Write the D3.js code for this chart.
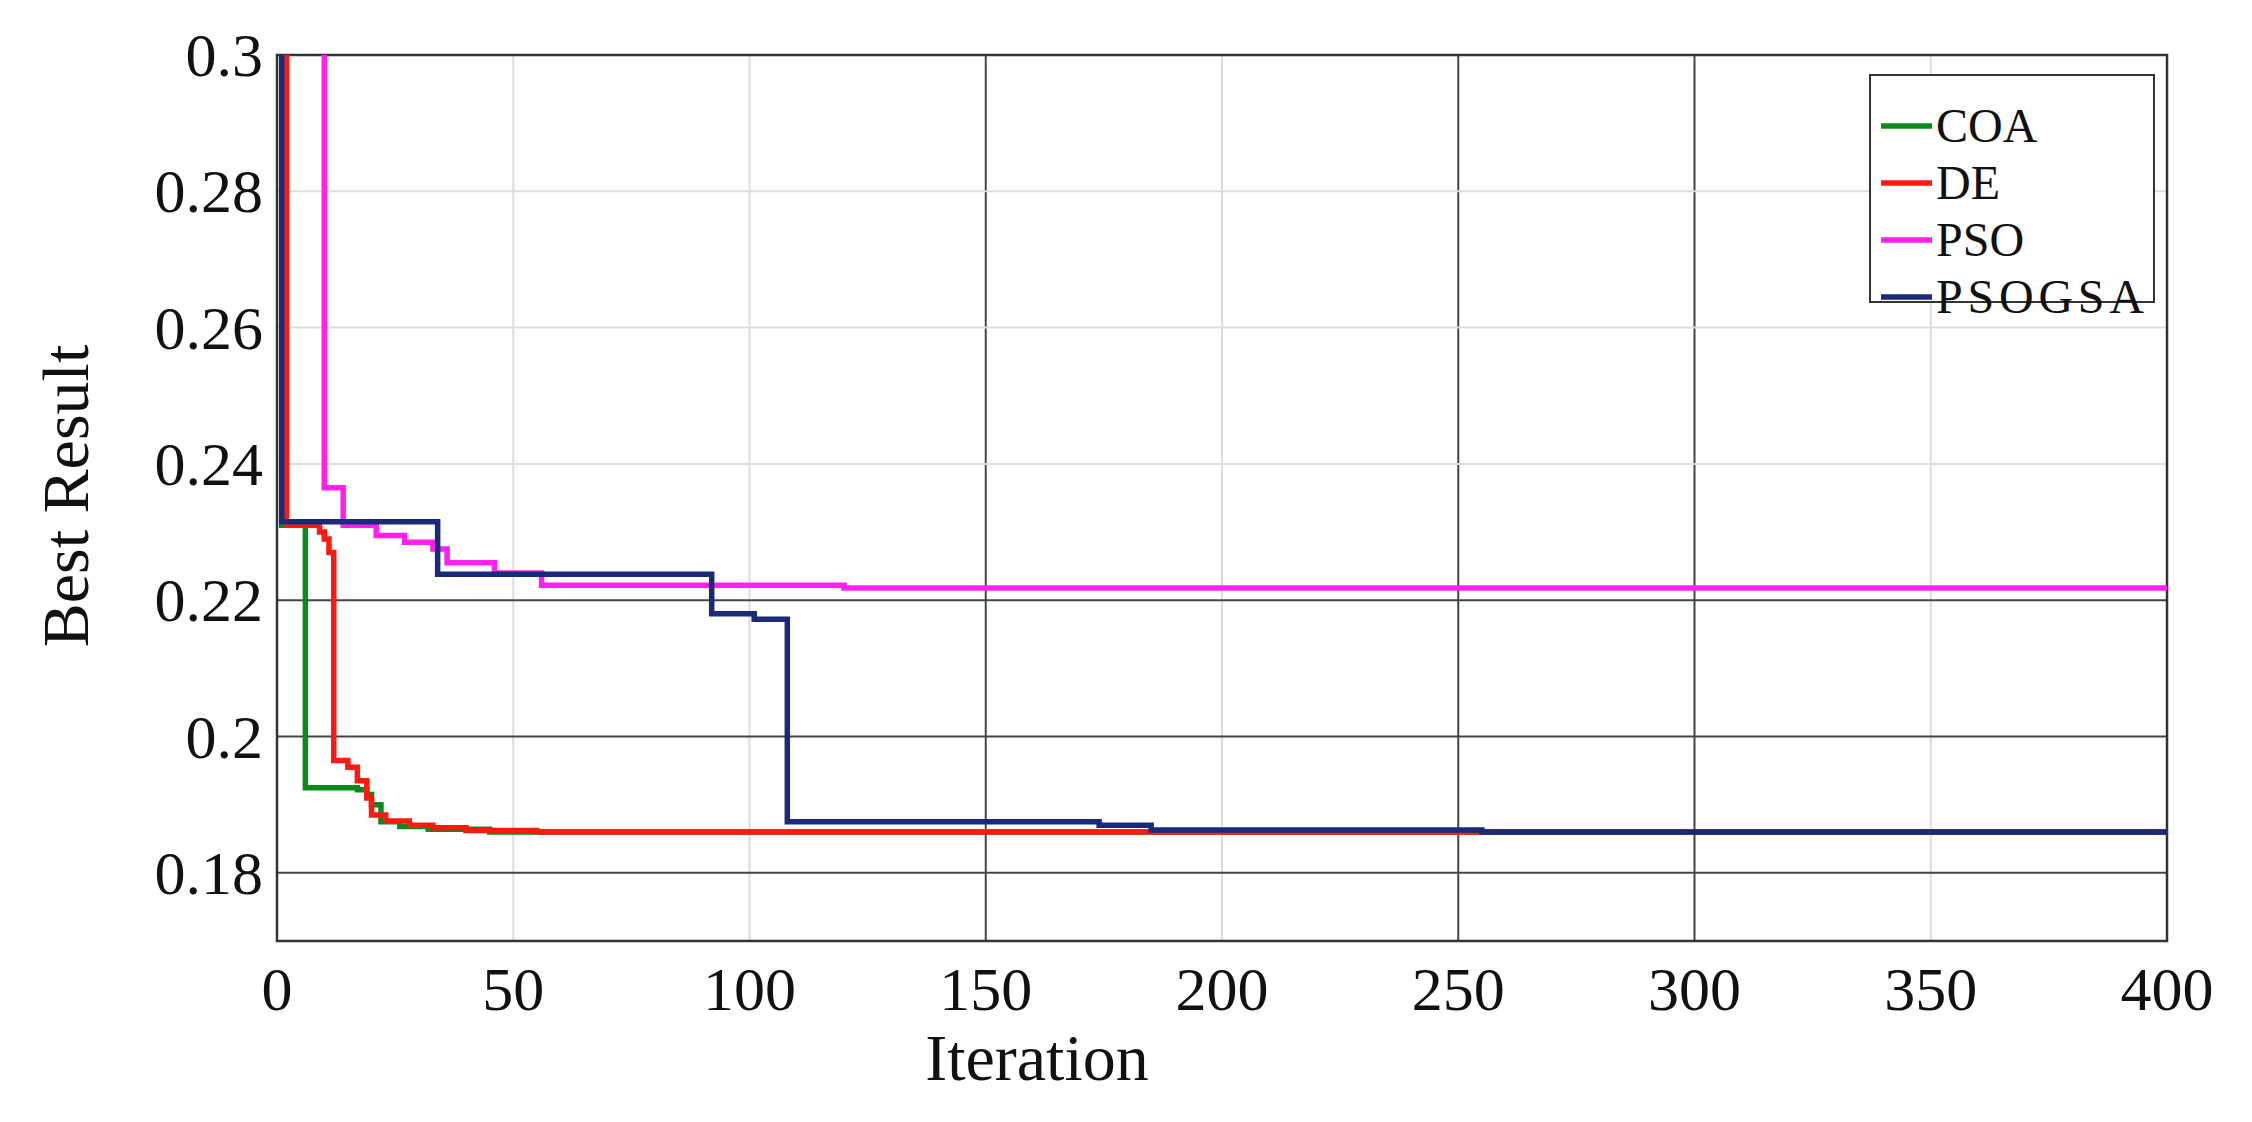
<!DOCTYPE html>
<html lang="en">
<head>
<meta charset="UTF-8">
<title>Best Result vs Iteration</title>
<script src="https://d3js.org/d3.v7.min.js"></script>
<style>
  body { margin: 0; background: #fff; }
  text { font-family: "Liberation Serif", "Times New Roman", serif; fill: #111; }
</style>
</head>
<body>
<svg id="chart"></svg>
<script>
const xTicks = [0, 50, 100, 150, 200, 250, 300, 350, 400];
const yTicks = [0.18, 0.2, 0.22, 0.24, 0.26, 0.28, 0.3];
const yTickLabels = ["0.18", "0.2", "0.22", "0.24", "0.26", "0.28", "0.3"];
const seriesNames = ["COA", "DE", "PSO", "PSOGSA"];

// [iteration, best value], drawn as steps
const coa = [[0, 0.34], [1, 0.2310], [6, 0.1925], [17, 0.1922], [19, 0.1915], [20, 0.190], [22, 0.1875], [26, 0.1868], [32, 0.1864], [45, 0.186], [400, 0.186]];
const de = [[0, 0.34], [2, 0.2310], [9, 0.2300], [10, 0.2290], [11, 0.2270], [12, 0.1965], [15, 0.1955], [17, 0.1935], [19, 0.1910], [20, 0.1885], [23, 0.1876], [28, 0.1870], [33, 0.1866], [40, 0.1862], [55, 0.186], [400, 0.186]];
const pso = [[0, 0.34], [10, 0.2365], [14, 0.2310], [21, 0.2295], [27, 0.2285], [33, 0.2275], [36, 0.2255], [46, 0.2240], [56, 0.2222], [120, 0.2218], [400, 0.2218]];
const psogsa = [[0, 0.34], [1, 0.2315], [34, 0.2238], [92, 0.2180], [101, 0.2172], [108, 0.1875], [174, 0.1870], [185, 0.1863], [255, 0.186], [400, 0.186]];
const seriesData = [coa, de, pso, psogsa];
const colors = ["#0a8a1a", "#ff1a10", "#ff22ee", "#1a2a7a"];

const W = 2252, H = 1122;
const m = { left: 277, right: 2167, top: 55, bottom: 941 };
const svg = d3.select("#chart").attr("width", W).attr("height", H);

const x = d3.scaleLinear().domain([0, 400]).range([m.left, m.right]);
const y = d3.scaleLinear().domain([0.17, 0.3]).range([m.bottom, m.top]);

// grid (some lines darker as in the original)
const darkX = [150, 250, 300], darkY = [0.18, 0.2, 0.22];
svg.append("g").selectAll("line").data(xTicks.slice(1, -1)).join("line")
  .attr("x1", d => x(d)).attr("x2", d => x(d)).attr("y1", m.top).attr("y2", m.bottom)
  .attr("stroke", d => darkX.includes(d) ? "#444" : "#ddd").attr("stroke-width", 2);
svg.append("g").selectAll("line").data(yTicks.slice(0, -1)).join("line")
  .attr("x1", m.left).attr("x2", m.right).attr("y1", d => y(d)).attr("y2", d => y(d))
  .attr("stroke", d => darkY.some(v => Math.abs(v - d) < 1e-9) ? "#444" : "#ddd").attr("stroke-width", 2);

// frame
svg.append("rect").attr("x", m.left).attr("y", m.top)
  .attr("width", m.right - m.left).attr("height", m.bottom - m.top)
  .attr("fill", "none").attr("stroke", "#333").attr("stroke-width", 2.5);

svg.append("clipPath").attr("id", "clip").append("rect")
  .attr("x", m.left).attr("y", m.top).attr("width", m.right - m.left).attr("height", m.bottom - m.top);

const line = d3.line().x(d => x(d[0])).y(d => y(d[1])).curve(d3.curveStepAfter);
svg.append("g").attr("clip-path", "url(#clip)").selectAll("path").data(seriesData).join("path")
  .attr("d", line).attr("fill", "none")
  .attr("stroke", (d, i) => colors[i]).attr("stroke-width", 5.5);

// tick labels
svg.append("g").selectAll("text").data(xTicks).join("text")
  .attr("x", d => x(d)).attr("y", 1010).attr("text-anchor", "middle")
  .attr("font-size", 62).text(d => d);
svg.append("g").selectAll("text").data(yTicks).join("text")
  .attr("x", m.left - 14).attr("y", d => y(d) + 21).attr("text-anchor", "end")
  .attr("font-size", 62).text((d, i) => yTickLabels[i]);

svg.append("text").attr("x", 1037).attr("y", 1080).attr("text-anchor", "middle")
  .attr("font-size", 66).text("Iteration");
svg.append("text").attr("transform", "translate(88,496) rotate(-90)")
  .attr("text-anchor", "middle").attr("font-size", 66).text("Best Result");

// legend
const lg = svg.append("g");
lg.append("rect").attr("x", 1870).attr("y", 75).attr("width", 284).attr("height", 227)
  .attr("fill", "#fff").attr("stroke", "#333").attr("stroke-width", 2);
const rows = lg.selectAll("g").data(seriesNames).join("g")
  .attr("transform", (d, i) => `translate(0,${126 + i * 57})`);
rows.append("line").attr("x1", 1881).attr("x2", 1932).attr("y1", 0).attr("y2", 0)
  .attr("stroke", (d, i) => colors[i]).attr("stroke-width", 5.5);
rows.append("text").attr("x", 1936).attr("y", 16).attr("font-size", 48)
  .attr("textLength", d => d === "PSOGSA" ? 208 : null).text(d => d);
</script>
</body>
</html>
